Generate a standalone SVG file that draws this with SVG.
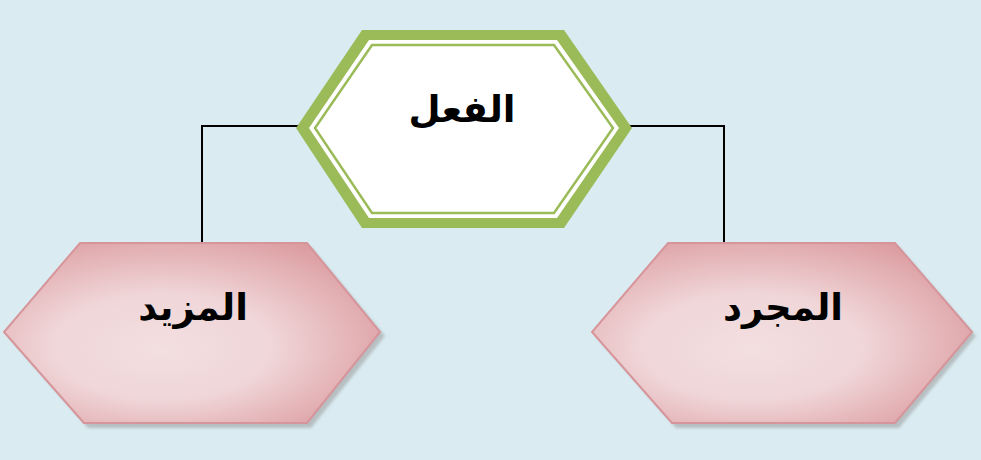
<svg xmlns="http://www.w3.org/2000/svg" width="981" height="460" viewBox="0 0 981 460">
<defs>
<style>
.lbl{font-family:"DejaVu Sans",sans-serif;font-weight:bold;font-size:37px;fill:#000;text-anchor:middle;direction:rtl}
.conn{fill:none;stroke:#000;stroke-width:2}
.pink{fill:url(#pg);stroke:#d6959a;stroke-width:2}
.shadow{fill:#9a9a9a;opacity:0.55}
</style>
<radialGradient id="pg" cx="0.42" cy="0.55" r="0.65" fx="0.42" fy="0.6">
<stop offset="0" stop-color="#f3dfe0"/>
<stop offset="0.45" stop-color="#f0d6d8"/>
<stop offset="1" stop-color="#dc9da1"/>
</radialGradient>
<filter id="blur" x="-10%" y="-10%" width="120%" height="120%"><feGaussianBlur stdDeviation="1.5"/></filter>
</defs>
<rect width="981" height="460" fill="#daecf2"/>
<g id="connectors">
<polyline class="conn" points="300,126 202,126 202,243"/>
<polyline class="conn" points="628,126 724,126 724,243"/>
</g>
<g id="node-fi3l">
<polygon points="362,30 564,30 632,128 564,228 362,228 296,128" fill="#9bbb59"/>
<polygon points="369,40 557,40 619,128 557,218 369,218 309,128" fill="#ffffff"/>
<polygon points="372,45 554,45 613,128 554,213 372,213 315,128" fill="none" stroke="#9bbb59" stroke-width="2.5"/>
<text class="lbl" x="462" y="122">الفعل</text>
</g>
<g id="node-mazid">
<polygon class="shadow" filter="url(#blur)" points="84,247 311,247 385,336 311,428 88,428 8,336"/>
<polygon class="pink" points="80,243 307,243 380,332 307,423 84,423 4,332"/>
<text class="lbl" x="193" y="320">المزيد</text>
</g>
<g id="node-mujarrad">
<polygon class="shadow" filter="url(#blur)" points="672,247 899,247 976,336 899,428 676,428 596,336"/>
<polygon class="pink" points="668,243 895,243 972,332 895,423 672,423 592,332"/>
<text class="lbl" x="783" y="320">المجرد</text>
</g>
</svg>
